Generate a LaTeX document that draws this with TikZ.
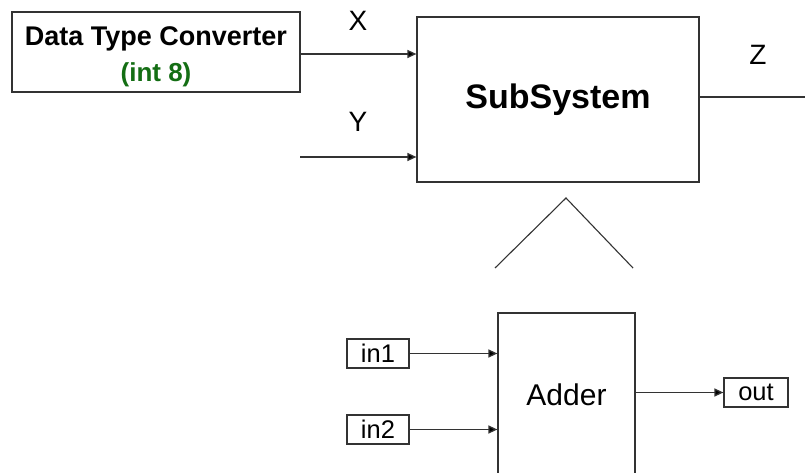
\documentclass[tikz,border=0pt]{standalone}
\usepackage{fontspec}
\setmainfont{Liberation Sans}
\usetikzlibrary{arrows.meta}
\definecolor{lc}{HTML}{333333}
\definecolor{dgreen}{RGB}{20,110,20}
\tikzset{
  blk/.style={draw=lc, line width=1.2pt, inner sep=0pt, rectangle},
  port/.style={draw=lc, line width=1.2pt, inner sep=0pt, rectangle, minimum width=62pt, minimum height=29pt, font=\fontsize{25.5}{29}\selectfont},
  lbl/.style={inner sep=0pt, font=\fontsize{28}{32}\selectfont},
  arr/.style={draw=lc, line width=1.3pt, -{Triangle[length=9pt,width=8pt,fill=black]}},
  ln/.style={draw=lc, line width=1.3pt}
}
\begin{document}
\begin{tikzpicture}[x=1pt,y=-1pt]
\clip (0,0) rectangle (805,473);
\fill[white] (0,0) rectangle (805,473);
% Data type converter
\node[blk, minimum width=288pt, minimum height=80pt] (dtc) at (156,52) {};
\node[inner sep=0pt, anchor=base, font=\bfseries\fontsize{27}{32}\selectfont] (dtct1) at (156,46) {Data Type Converter};
\node[inner sep=0pt, anchor=base, text=dgreen, font=\bfseries\fontsize{26}{30}\selectfont] (dtct2) at (156,82) {(int 8)};
% SubSystem
\node[blk, minimum width=282pt, minimum height=165pt, font=\bfseries\fontsize{34}{38}\selectfont] (sub) at (558,99.5) {SubSystem};
\coordinate (xin) at (417,54);
\coordinate (ystart) at (300,157);
\coordinate (zend) at (805,97);
\draw[arr] (dtc.east |- xin) -- (sub.west |- xin);
\draw[arr] (ystart) -- (ystart -| sub.west);
\draw[ln] (sub.east |- zend) -- (zend);
\node[lbl] (xl) at (358,21) {X};
\node[lbl] (yl) at (358,122) {Y};
\node[lbl] (zl) at (758,55) {Z};
% expansion triangle
\draw[ln, line width=1.1pt] (495,268) -- (566,198) -- (633,268);
% Adder
\node[blk, minimum width=137pt, minimum height=200pt] (adder) at (566.5,413) {};
\node[inner sep=0pt, font=\fontsize{30}{34}\selectfont] (addert) at (566.5,395) {Adder};
\node[port] (in1) at (378,353.5) {in1};
\node[port] (in2) at (378,429.5) {in2};
\node[port, minimum width=64pt] (out) at (756,392.5) {out};
\draw[arr] (in1.east) -- (in1.east -| adder.west);
\draw[arr] (in2.east) -- (in2.east -| adder.west);
\draw[arr] (adder.east |- out.west) -- (out.west);
\end{tikzpicture}
\end{document}
